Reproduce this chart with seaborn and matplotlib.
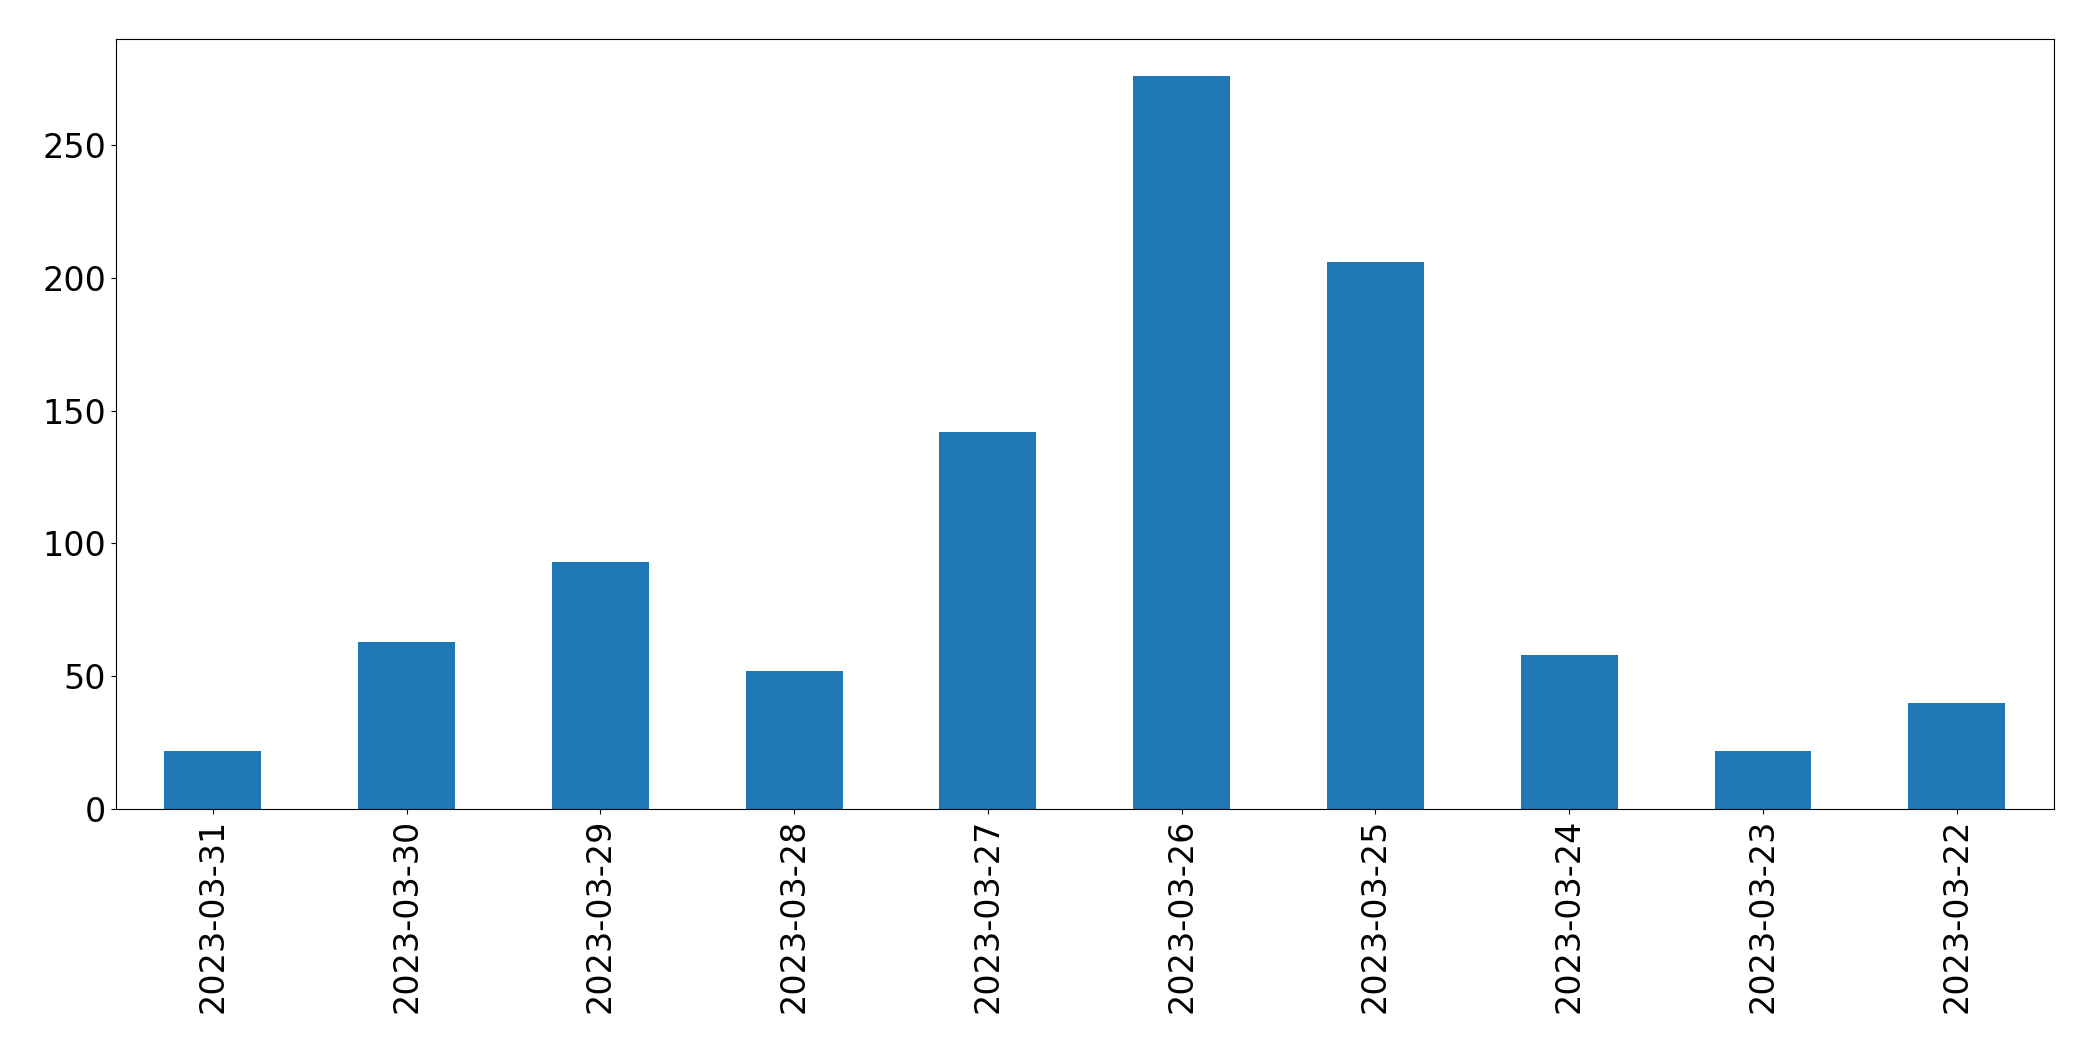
import matplotlib
matplotlib.use("Agg")
import matplotlib.pyplot as plt
import pandas as pd
import seaborn as sns

dates = ["2023-03-31", "2023-03-30", "2023-03-29", "2023-03-28", "2023-03-27",
         "2023-03-26", "2023-03-25", "2023-03-24", "2023-03-23", "2023-03-22"]
counts = [22, 63, 93, 52, 142, 276, 206, 58, 22, 40]

data = pd.DataFrame({"date": dates, "count": counts})

fig = plt.figure(figsize=(20.93, 10.61), dpi=100)
ax = fig.add_axes([0.0554, 0.2375, 0.9258, 0.7255])
sns.barplot(data=data, x="date", y="count", order=dates, color="#1f77b4",
            saturation=1, width=0.5, ax=ax)
ax.set_xlim(-0.5, len(dates) - 0.5)
ax.set_ylim(0, max(counts) * 1.05)
ax.set_xlabel("")
ax.set_ylabel("")
ax.tick_params(axis="both", labelsize=24)
ax.tick_params(axis="x", labelrotation=90)
for side in ["top", "right", "left", "bottom"]:
    ax.spines[side].set_visible(True)
    ax.spines[side].set_color("black")

fig.savefig("out.png", dpi=100)
